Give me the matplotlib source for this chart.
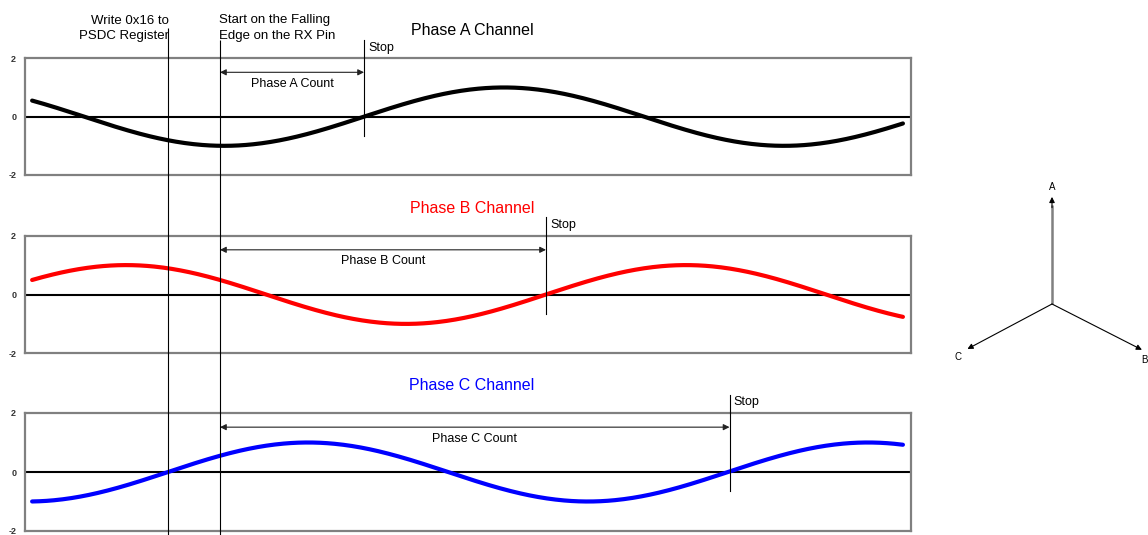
import numpy as np
import matplotlib
matplotlib.use("Agg")
import matplotlib.pyplot as plt

plt.rcParams['font.family'] = ['Liberation Sans', 'DejaVu Sans']

# ---- data (angles in degrees of phase A, 0 = A rising zero crossing) ----
channels = ["Phase A Channel", "Phase B Channel", "Phase C Channel"]
count_labels = ["Phase A Count", "Phase B Count", "Phase C Count"]
colors = ["black", "#ff0000", "#0000ff"]
phase_offsets = [0.0, -117.0, 126.0]      # phase of each channel relative to A
amplitude = 1.0
t_first, t_last = -213.4, 346.5           # span of the plotted waveforms
x_limits = (-218.3, 351.5)
y_ticks = [-2, 0, 2]
y_tick_labels = ["-2", "0", "2"]
t_write = -126.0                          # write 0x16 to PSDC register
t_start = -92.6                           # falling edge on RX pin
t_stops = [0.0, 117.0, 235.0]             # stop events per channel

vec_labels = ["A", "B", "C"]
vec_angles = [90.0, -27.0, 208.0]
vec_lengths = [1.04, 0.98, 0.93]
vec_colors = ["#808080", "black", "black"]

W, H = 1148, 535
fig = plt.figure(figsize=(W / 100, H / 100), dpi=100)

left = 24.5 / W
width = (910.7 - 24.5) / W
panels_px = [(58.3, 175.0), (235.7, 353.3), (413.0, 531.0)]

t = np.linspace(t_first, t_last, 600)
for i, (top, bot) in enumerate(panels_px):
    ax = fig.add_axes([left, 1 - bot / H, width, (bot - top) / H])
    y = amplitude * np.sin(np.radians(t + phase_offsets[i]))
    ax.axhline(0, color="black", lw=1.5, zorder=2)
    ax.plot(t, y, color=colors[i], lw=3.0, zorder=3, solid_capstyle="round")
    ax.set_xlim(*x_limits)
    ax.set_ylim(-2, 2)
    ax.set_xticks([])
    ax.set_yticks(y_ticks)
    ax.set_yticklabels(y_tick_labels, fontsize=6.5, fontweight="bold", color="#333333")
    ax.tick_params(axis="y", length=0, pad=6)
    for s in ax.spines.values():
        s.set_color("#808080")
        s.set_linewidth(1.6)
    # title
    ax.text(0.505, 1.235, channels[i], transform=ax.transAxes, ha="center",
            va="center", fontsize=11.5, color=colors[i])
    # stop line and label
    ax.plot([t_stops[i], t_stops[i]], [2.62, -0.65], color="black", lw=0.8,
            clip_on=False, zorder=4)
    ax.annotate("Stop", xy=(t_stops[i], 2.37), xytext=(3, 0),
                textcoords="offset points", ha="left", va="center",
                fontsize=9, annotation_clip=False)
    # count arrow
    ax.annotate("", xy=(t_stops[i], 1.52), xytext=(t_start, 1.52),
                arrowprops=dict(arrowstyle="<|-|>", color="#222222", lw=0.8,
                                mutation_scale=9, shrinkA=0, shrinkB=0))
    ax.text((t_start + t_stops[i]) / 2, 1.13, count_labels[i], ha="center",
            va="center", fontsize=9)

# overlay axes for lines spanning all panels (y in pixels from top)
ov = fig.add_axes([left, 0, width, 1])
ov.set_xlim(*x_limits)
ov.set_ylim(H, 0)
ov.axis("off")
ov.vlines([t_write], 28, H, color="black", lw=0.8)
ov.vlines([t_start], 40, H, color="black", lw=0.8)
ov.text(t_write + 0.5, 14.5, "Write 0x16 to\nPSDC Register", ha="right", va="top",
        multialignment="right", fontsize=9.5, linespacing=1.35)
ov.text(t_start - 0.6, 14.5, "Start on the Falling\nEdge on the RX Pin", ha="left",
        va="top", multialignment="left", fontsize=9.5, linespacing=1.35)

# phasor diagram
unit = 103.0
half = 1.2
cx, cy = 1052, 304
vax = fig.add_axes([(cx - half * unit) / W, (H - cy - half * unit) / H,
                    2 * half * unit / W, 2 * half * unit / H])
vax.set_xlim(-half, half)
vax.set_ylim(-half, half)
vax.axis("off")
for lab, ang, ln, col in zip(vec_labels, vec_angles, vec_lengths, vec_colors):
    ux, uy = np.cos(np.radians(ang)), np.sin(np.radians(ang))
    dx, dy = ln * ux, ln * uy
    if col != "black":
        vax.plot([0, 0.92 * dx], [0, 0.92 * dy], color=col, lw=1.8,
                 solid_capstyle="butt")
        vax.annotate("", xy=(dx, dy), xytext=(0.9 * dx, 0.9 * dy),
                     arrowprops=dict(arrowstyle="-|>", color="black", lw=0.8,
                                     mutation_scale=8, shrinkA=0, shrinkB=0),
                     annotation_clip=False)
    else:
        vax.annotate("", xy=(dx, dy), xytext=(0, 0),
                     arrowprops=dict(arrowstyle="-|>", color=col, lw=0.8,
                                     mutation_scale=8, shrinkA=0, shrinkB=0),
                     annotation_clip=False)
    off = {"A": (0, 7), "B": (2, -7), "C": (-7, -6)}[lab]
    vax.annotate(lab, xy=(dx, dy), xytext=off, textcoords="offset points",
                 ha="center", va="center", fontsize=7, annotation_clip=False)

fig.savefig("out.png", dpi=100)
